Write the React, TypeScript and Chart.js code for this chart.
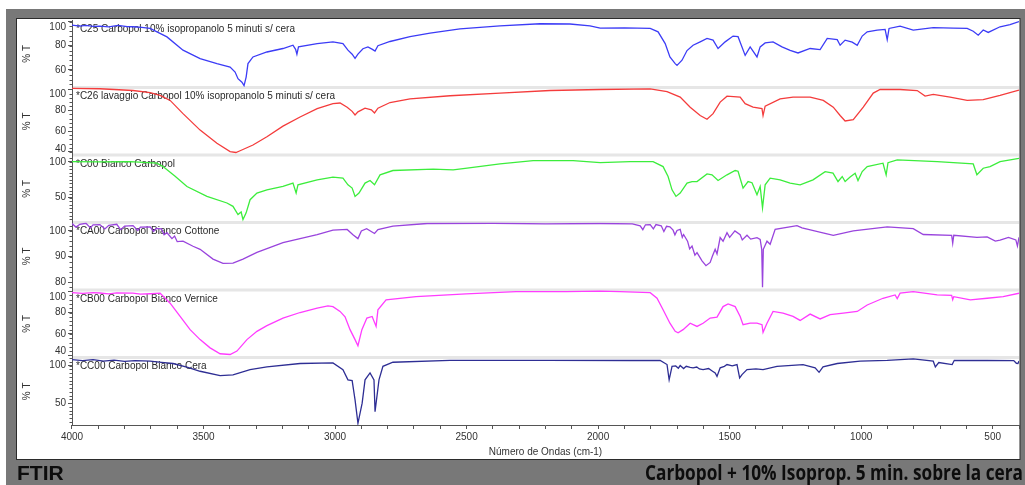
import React, { useEffect, useRef } from 'react';
import { Chart, registerables } from 'chart.js';

Chart.register(...registerables);

// Spectra as [wavenumber cm-1, %T] pairs, from 4000 down to 400
const c25 = [
  [4000, 97], [3970, 96.2], [3947, 96.8], [3920, 96], [3894, 96.3], [3860, 95.6], [3825, 96.8], [3790, 95.8],
  [3768, 95.7], [3735, 95.2], [3703, 94.3], [3677, 91.5], [3639, 87.3], [3578, 76.3], [3513, 69.3], [3449, 65.2],
  [3399, 62.3], [3380, 58.2], [3369, 52.7], [3354, 49.8], [3346, 47], [3338, 54], [3331, 65.2], [3312, 70.7],
  [3259, 74.8], [3198, 77.7], [3160, 80.4], [3150, 77], [3145, 73], [3139, 79], [3068, 81.8], [3008, 83.2],
  [2970, 81.8], [2951, 76.3], [2935, 73], [2924, 69.6], [2913, 73], [2894, 77.5], [2875, 79], [2858, 77],
  [2848, 75.5], [2837, 80], [2791, 83.5], [2715, 87.5], [2639, 90.5], [2525, 94], [2373, 96.5], [2221, 98.2],
  [2107, 98], [2031, 96.5], [1992, 94.6], [1900, 94.8], [1802, 94.3], [1772, 91.5], [1745, 81.8], [1727, 70.7],
  [1707, 65.2], [1700, 63.7], [1681, 68], [1662, 76], [1639, 80.4], [1612, 83.2], [1586, 86], [1563, 84.6],
  [1544, 77.7], [1517, 83.2], [1487, 88], [1468, 87.5], [1441, 72], [1422, 79], [1396, 70.7], [1384, 79],
  [1365, 82.3], [1335, 83.2], [1301, 79], [1270, 76.2], [1240, 74], [1194, 77.7], [1156, 76.8], [1129, 86],
  [1091, 85], [1080, 80.4], [1061, 84.6], [1034, 83], [1015, 80.4], [996, 88], [977, 91.5], [939, 93],
  [909, 93.5], [901, 85], [894, 94.3], [852, 96.2], [802, 93], [726, 95], [650, 94.5], [597, 94.3],
  [574, 92], [555, 88.7], [536, 93], [517, 91], [472, 95.7], [434, 97.5], [400, 100],
];

const c26 = [
  [4000, 101.2], [3894, 100.7], [3768, 99], [3703, 97], [3665, 94.3], [3627, 89.5], [3578, 76.8], [3513, 61],
  [3449, 48.3], [3399, 40.3], [3377, 39.5], [3361, 41.2], [3312, 46.7], [3259, 54.6], [3198, 64.8], [3133, 73.6],
  [3068, 81.6], [3008, 86.4], [2981, 87], [2954, 83], [2935, 79], [2924, 75.5], [2913, 78.5], [2886, 82],
  [2862, 80.5], [2850, 77.5], [2837, 82], [2791, 87.5], [2715, 91], [2563, 94], [2373, 96.5], [2183, 99],
  [1992, 100], [1802, 100.5], [1738, 98], [1688, 92.7], [1650, 83], [1612, 75], [1586, 71.4], [1563, 76.8],
  [1536, 87.9], [1510, 93.6], [1460, 92.7], [1441, 86.4], [1411, 83], [1377, 81.6], [1373, 75], [1365, 84],
  [1308, 91], [1259, 92.7], [1194, 92.7], [1144, 89.5], [1106, 83], [1080, 75], [1061, 69.8], [1030, 71],
  [992, 83], [954, 96.5], [928, 100], [852, 100], [787, 99], [757, 93.6], [726, 95.2], [662, 92.7],
  [597, 89.5], [536, 90.2], [472, 94.3], [400, 99.5],
];

const c00 = [
  [4000, 100.4], [3894, 100], [3779, 100.5], [3677, 98.2], [3654, 93.5], [3608, 80], [3563, 65.7], [3487, 51.8],
  [3411, 42.6], [3388, 37.9], [3369, 26.4], [3357, 30], [3350, 19.4], [3338, 28.8], [3323, 47.2], [3297, 56.5],
  [3259, 61], [3198, 65.7], [3160, 70.4], [3148, 56.5], [3141, 68], [3068, 75], [3008, 78.7], [2970, 77.3],
  [2951, 68], [2935, 63.5], [2924, 51.8], [2909, 56.5], [2886, 70.4], [2867, 74], [2850, 68], [2829, 81.9],
  [2780, 88], [2627, 89.9], [2551, 88.9], [2498, 91.2], [2373, 97.2], [2247, 101.8], [2095, 101.8], [1992, 99],
  [1878, 100.4], [1791, 100.4], [1753, 93.5], [1734, 79.6], [1719, 61], [1704, 51.8], [1688, 56.5], [1662, 70.4],
  [1643, 72.6], [1624, 72.6], [1586, 83.3], [1567, 82], [1544, 74], [1510, 82], [1479, 88], [1468, 87],
  [1449, 63.5], [1430, 72.6], [1415, 71], [1396, 54], [1384, 65.7], [1375, 35.7], [1365, 68], [1346, 77.4],
  [1308, 75], [1270, 70.4], [1232, 68], [1183, 75], [1137, 86.5], [1107, 84.3], [1088, 72.6], [1072, 79.6],
  [1061, 72.6], [1042, 79], [1023, 84.3], [1012, 74], [996, 86.5], [977, 93.5], [917, 98.2], [905, 82],
  [898, 99], [863, 102.8], [711, 100.4], [574, 97.2], [560, 82], [536, 91.2], [510, 93.5], [472, 100.4],
  [400, 105],
];

const ca00 = [
  [4000, 102.9], [3985, 101.5], [3970, 102.6], [3947, 103], [3930, 101.2], [3920, 102.4], [3894, 102.5], [3875, 100.8],
  [3860, 102.2], [3830, 102.6], [3815, 100.5], [3800, 101.9], [3768, 102.1], [3750, 100.2], [3740, 101.5], [3703, 101.6],
  [3690, 99.8], [3680, 101], [3660, 100.8], [3650, 98.5], [3639, 99.3], [3620, 97], [3610, 98], [3600, 95.8],
  [3578, 96], [3540, 94], [3513, 92.8], [3464, 89], [3426, 87.3], [3388, 87.4], [3350, 89], [3297, 91.6],
  [3198, 95.4], [3068, 98.6], [3008, 100.3], [2954, 100.6], [2932, 98.5], [2913, 97], [2900, 100], [2880, 100.9],
  [2850, 99], [2837, 100.5], [2780, 101.9], [2650, 102.9], [2400, 103], [2200, 102.8], [1992, 102.9], [1870, 102.8],
  [1840, 102], [1830, 100.5], [1820, 102.4], [1802, 102.5], [1790, 100.8], [1780, 102.5], [1760, 102], [1750, 99.8],
  [1740, 101.8], [1727, 101.6], [1715, 100.3], [1708, 98.5], [1700, 100.2], [1688, 100.6], [1680, 97.5], [1675, 98.6],
  [1660, 96], [1652, 93], [1643, 94.1], [1632, 90.5], [1624, 91.5], [1605, 88.3], [1590, 86.4], [1574, 87.7],
  [1566, 90], [1555, 92.8], [1548, 91], [1536, 97.4], [1525, 96], [1510, 99.3], [1500, 97.5], [1480, 100],
  [1460, 98.5], [1452, 96.5], [1434, 98.3], [1420, 96.8], [1396, 97.4], [1384, 96.7], [1378, 92.8], [1375, 78],
  [1372, 92.8], [1358, 96], [1346, 94.8], [1327, 100.6], [1244, 102.1], [1225, 101.2], [1106, 98.3], [1030, 100],
  [901, 101.6], [802, 100.9], [764, 98.6], [656, 98.3], [652, 95.2], [648, 98.3], [560, 97.5], [521, 97.7],
  [490, 96], [472, 96.4], [440, 97.5], [412, 96.5], [406, 94.1], [400, 97.5],
];

const cb00 = [
  [4000, 98.5], [3960, 97.8], [3920, 98.6], [3894, 98.2], [3860, 97.4], [3830, 98.3], [3768, 98], [3740, 97.2],
  [3703, 97.5], [3665, 98], [3627, 88.7], [3589, 76.3], [3551, 64], [3513, 54.7], [3475, 47], [3437, 41.5],
  [3399, 40.8], [3373, 44], [3335, 54.7], [3297, 62.4], [3259, 67.7], [3198, 74.8], [3133, 80], [3068, 84],
  [3027, 86.2], [3008, 85.5], [2981, 81], [2962, 76], [2943, 64], [2924, 54.7], [2913, 49], [2898, 64],
  [2879, 74.8], [2859, 76.3], [2844, 67], [2837, 82.5], [2806, 91.8], [2692, 94.8], [2502, 97.3], [2312, 99.4],
  [2122, 99.4], [1992, 100], [1916, 99.4], [1802, 98.5], [1776, 93.3], [1753, 82.5], [1727, 70], [1707, 62.4],
  [1696, 61], [1677, 64], [1650, 70], [1624, 67], [1601, 70], [1574, 74.8], [1548, 75.7], [1525, 85.5],
  [1506, 88], [1479, 85.5], [1460, 76.3], [1449, 68.6], [1422, 70], [1396, 70], [1377, 68.6], [1373, 61.5],
  [1358, 70], [1335, 81], [1297, 79.4], [1259, 76.3], [1232, 72.6], [1194, 78.5], [1156, 74], [1118, 78],
  [1068, 79.4], [1015, 81], [977, 87], [917, 93.3], [871, 96.4], [863, 93], [852, 98], [802, 99.4],
  [711, 96.4], [656, 96], [652, 92], [648, 94.8], [585, 91.8], [521, 93.3], [460, 94.8], [400, 98],
];

const cc00 = [
  [4000, 108], [3960, 106.5], [3920, 107.8], [3880, 106], [3840, 107.2], [3800, 105.5], [3760, 106.6], [3703, 105.8],
  [3660, 104.2], [3616, 102.7], [3560, 97.5], [3513, 92.4], [3437, 86.6], [3388, 87.5], [3323, 94.6], [3259, 98.2],
  [3133, 102.7], [3008, 103.6], [2970, 94.6], [2951, 81], [2935, 80], [2924, 54.4], [2913, 23.2], [2897, 50],
  [2886, 81], [2867, 90.2], [2852, 81], [2848, 38.7], [2833, 81], [2818, 99], [2780, 104.4], [2563, 107],
  [2200, 107], [1878, 106.7], [1764, 106.7], [1738, 101.3], [1730, 81], [1719, 99], [1705, 99.5], [1695, 96.5],
  [1688, 100], [1675, 96], [1665, 99], [1650, 97.5], [1639, 97], [1625, 98], [1615, 95.5], [1601, 94.6],
  [1580, 96], [1565, 92.5], [1555, 90.2], [1548, 85.6], [1536, 97], [1520, 99], [1510, 101.3], [1490, 99.5],
  [1472, 101.3], [1462, 83.5], [1453, 88], [1434, 94.6], [1400, 95.5], [1373, 94.6], [1320, 99], [1221, 101.3],
  [1175, 97], [1160, 91], [1145, 98.2], [1091, 102.7], [1004, 105.8], [901, 107], [802, 109], [726, 105.8],
  [718, 98.2], [705, 104], [654, 101.3], [646, 107], [521, 106.7], [420, 106.5], [410, 103], [404, 102.7],
  [400, 106],
];

const panelNames = [
  '*C25 Carbopol 10% isopropanolo 5 minuti s/ cera',
  '*C26 lavaggio Carbopol 10% isopropanolo 5 minuti s/ cera',
  '*C00 Bianco Carbopol',
  '*CA00 Carbopol Bianco Cottone',
  '*CB00 Carbopol Bianco Vernice',
  '*CC00 Carbopol Bianco Cera',
];
const panelColors = ['#3c3cf6', '#f43c3c', '#3ced3c', '#9944dd', '#ff3cff', '#2e2e94'];
const panelMin = [45.4, 37.1, 15.3, 76.9, 38, 20.9];
const panelMax = [101.3, 101.9, 109.7, 103.3, 101, 110.7];
const panelTicks = [[60, 80, 100], [40, 60, 80, 100], [50, 100], [80, 90, 100], [40, 60, 80, 100], [50, 100]];
const panelMinorStep = [4, 4, 5, 2, 4, 5];
const xTickLabels = [4000, 3500, 3000, 2500, 2000, 1500, 1000, 500];
const xMin = 400;
const xMax = 4000;

const footerLeft = 'FTIR';
const footerRight = 'Carbopol + 10% Isoprop. 5 min. sobre la cera';

const W = 1025;
const H = 485;
const FONT = '"Liberation Sans", Arial, sans-serif';
const panelIds = panelNames.map((_, i) => 'p' + i);

const decorPlugin = {
  id: 'ftirDecor',
  beforeDraw(chart: any) {
    const ctx = chart.ctx;
    ctx.save();
    ctx.fillStyle = '#ffffff';
    ctx.fillRect(0, 0, W, H);
    ctx.fillStyle = '#787878';
    ctx.fillRect(6, 9, W - 6, H - 9);
    ctx.fillStyle = '#ffffff';
    ctx.fillRect(17, 19, 1003, 440);
    ctx.strokeStyle = '#2b2b2b';
    ctx.lineWidth = 1;
    ctx.strokeRect(16.5, 18.5, 1003.5, 441);
    ctx.restore();
  },
  beforeDatasetsDraw(chart: any) {
    const ctx = chart.ctx;
    const area = chart.chartArea;
    ctx.save();
    // light bands between stacked panels
    ctx.fillStyle = '#e6e6e6';
    panelIds.forEach((id, i) => {
      if (i === 0) return;
      const s = chart.scales[id];
      ctx.fillRect(area.left + 1, s.top - 1.5, area.right - area.left - 1, 3);
    });
    // panel captions
    ctx.fillStyle = '#2a2a2a';
    ctx.font = '10px ' + FONT;
    ctx.textBaseline = 'middle';
    ctx.textAlign = 'left';
    panelIds.forEach((id, i) => {
      const s = chart.scales[id];
      ctx.fillText(panelNames[i], area.left + 4, s.top + 9);
    });
    ctx.restore();
  },
  afterDraw(chart: any) {
    const ctx = chart.ctx;
    const area = chart.chartArea;
    ctx.save();
    // minor ticks on each %T axis
    ctx.strokeStyle = '#555';
    ctx.lineWidth = 1;
    ctx.beginPath();
    panelIds.forEach((id, i) => {
      const s = chart.scales[id];
      const step = panelMinorStep[i];
      for (let v = Math.ceil(s.min / step) * step; v <= s.max; v += step) {
        const y = Math.round(s.getPixelForValue(v)) + 0.5;
        ctx.moveTo(area.left - 2.5, y);
        ctx.lineTo(area.left, y);
      }
    });
    ctx.stroke();
    // %T tick labels, kept inside their own panel
    ctx.fillStyle = '#333';
    ctx.font = '10px ' + FONT;
    ctx.textAlign = 'right';
    ctx.textBaseline = 'middle';
    panelIds.forEach((id, i) => {
      const s = chart.scales[id];
      panelTicks[i].forEach((v) => {
        const py = s.getPixelForValue(v);
        const y = Math.min(Math.max(py, s.top + 7), s.bottom - 6);
        ctx.fillText(String(v), area.left - 6, y);
      });
    });
    // footer captions on the grey band
    ctx.fillStyle = '#0d0d0d';
    ctx.textBaseline = 'alphabetic';
    ctx.textAlign = 'left';
    ctx.font = 'bold 21px ' + FONT;
    ctx.fillText(footerLeft, 17, 480);
    ctx.textAlign = 'right';
    ctx.font = 'bold 21px "Open Sans", ' + FONT;
    ctx.fillText(footerRight, 1023, 480, 378);
    ctx.restore();
  },
};

export default function App() {
  const canvasRef = useRef<HTMLCanvasElement>(null);

  useEffect(() => {
    const canvas = canvasRef.current;
    if (!canvas) return;
    const series = [c25, c26, c00, ca00, cb00, cc00];

    const datasets = series.map((s, i) => ({
      label: panelNames[i],
      data: s.map(([x, y]) => ({ x, y })),
      yAxisID: panelIds[i],
      borderColor: panelColors[i],
      backgroundColor: panelColors[i],
      borderWidth: 1.3,
      pointRadius: 0,
      tension: 0,
      fill: false,
    }));

    const scales: any = {
      x: {
        type: 'linear',
        reverse: true,
        min: xMin,
        max: xMax,
        afterBuildTicks: (scale: any) => {
          const t = [];
          for (let v = xMin; v <= xMax; v += 100) t.push({ value: v });
          scale.ticks = t;
        },
        afterFit: (scale: any) => {
          scale.height = 34;
          scale.paddingLeft = 0;
          scale.paddingRight = 0;
        },
        ticks: {
          autoSkip: false,
          maxRotation: 0,
          padding: 2,
          color: '#333',
          font: { size: 10, family: FONT },
          callback: (v: any) => (xTickLabels.includes(Number(v)) ? String(v) : ''),
        },
        grid: { drawOnChartArea: false, tickLength: 4, color: '#555' },
        border: { color: '#555' },
        title: {
          display: true,
          text: 'Número de Ondas (cm-1)',
          color: '#333',
          font: { size: 10, family: FONT },
          padding: { top: 0, bottom: 1 },
        },
      },
    };

    panelIds.forEach((id, i) => {
      scales[id] = {
        type: 'linear',
        position: 'left',
        stack: 'spectra',
        stackWeight: 1,
        weight: panelIds.length - i,
        min: panelMin[i],
        max: panelMax[i],
        afterBuildTicks: (scale: any) => {
          scale.ticks = panelTicks[i].map((v) => ({ value: v }));
        },
        afterFit: (scale: any) => {
          scale.width = 55;
          scale.paddingTop = 0;
          scale.paddingBottom = 0;
        },
        ticks: {
          autoSkip: false,
          padding: 2,
          color: 'rgba(0,0,0,0)',
          font: { size: 10, family: FONT },
        },
        grid: { drawOnChartArea: false, tickLength: 4, color: '#555' },
        border: { color: '#555' },
        title: {
          display: true,
          text: '% T',
          color: '#333',
          font: { size: 10, family: FONT },
          padding: { top: 4, bottom: 0 },
        },
      };
    });

    const chart = new Chart(canvas, {
      type: 'line',
      data: { datasets },
      options: {
        animation: false,
        responsive: false,
        maintainAspectRatio: false,
        layout: { padding: { left: 17, top: 20, right: 6, bottom: 26 } },
        plugins: { legend: { display: false }, tooltip: { enabled: false } },
        scales,
      } as any,
      plugins: [decorPlugin],
    });

    return () => chart.destroy();
  }, []);

  return (
    <div style={{ position: 'fixed', left: 0, top: 0, width: W, height: H, background: '#fff' }}>
      <canvas ref={canvasRef} width={W} height={H} style={{ display: 'block', width: W, height: H }} />
    </div>
  );
}
